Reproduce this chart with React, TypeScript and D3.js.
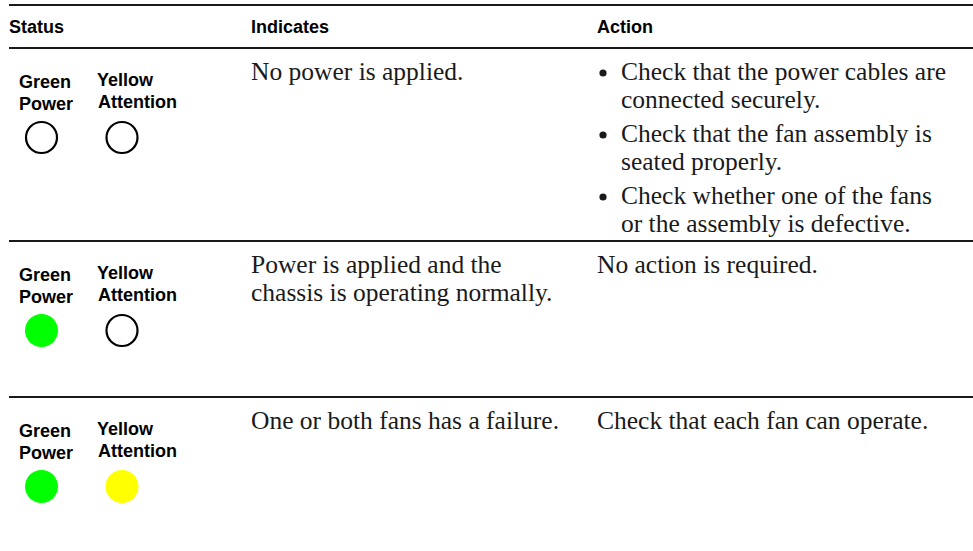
import React, { useEffect, useRef } from 'react'
import * as d3 from 'd3'

const WIDTH = 973
const HEIGHT = 551

// table content
const headers = ['Status', 'Indicates', 'Action']
const ledNames = ['Green', 'Yellow']
const ledFunctions = ['Power', 'Attention']
const powerLed = ['off', 'on', 'on']
const attentionLed = ['off', 'off', 'on']
const indicates = [
  ['No power is applied.'],
  ['Power is applied and the', 'chassis is operating normally.'],
  ['One or both fans has a failure.'],
]
const actions = [
  [
    ['Check that the power cables are', 'connected securely.'],
    ['Check that the fan assembly is', 'seated properly.'],
    ['Check whether one of the fans', 'or the assembly is defective.'],
  ],
  [['No action is required.']],
  [['Check that each fan can operate.']],
]
const bulleted = [true, false, false]

const ledColors = ['#00ff00', '#ffff00']

// layout
const ruleLeft = 9
const ruleRight = 973
const topRule = 5
const headerBaseline = 33
const rowTops = [48, 241, 397]
const colX = [9, 251, 597]
const bulletX = 603
const bulletTextX = 621
const textTop = 32
const lineHeight = 28
const itemGap = 6
const ledLabelX = [[19, 19], [97, 98]]
const ledLabelY = [[40, 62], [38, 60]]
const ledCx = [41.5, 122]
const ledCy = 89.5
const ledR = 16.5

const SANS = '"Liberation Sans", Arial, Helvetica, sans-serif'
const SERIF = '"Liberation Serif", "Times New Roman", serif'

export default function App() {
  const ref = useRef<SVGSVGElement>(null)

  useEffect(() => {
    const svg = d3.select(ref.current)
    svg.selectAll('*').remove()

    // horizontal rules
    svg.selectAll('line.rule')
      .data([topRule, ...rowTops])
      .join('line')
      .attr('class', 'rule')
      .attr('x1', ruleLeft)
      .attr('x2', ruleRight)
      .attr('y1', d => d)
      .attr('y2', d => d)
      .attr('stroke', '#1a1a1a')
      .attr('stroke-width', 1.8)

    // column headers
    svg.selectAll('text.header')
      .data(headers)
      .join('text')
      .attr('class', 'header')
      .attr('x', (d, i) => colX[i])
      .attr('y', headerBaseline)
      .attr('font-family', SANS)
      .attr('font-weight', 'bold')
      .attr('font-size', 18)
      .attr('fill', '#000')
      .text(d => d)

    const rows = svg.selectAll('g.row')
      .data(d3.range(rowTops.length))
      .join('g')
      .attr('class', 'row')
      .attr('transform', i => `translate(0,${rowTops[i]})`)

    rows.each(function (r) {
      const g = d3.select(this)
      const states = [powerLed[r], attentionLed[r]]

      // LED labels and lamps
      ledNames.forEach((name, k) => {
        const lines = [name, ledFunctions[k]]
        g.selectAll(`text.led${k}`)
          .data(lines)
          .join('text')
          .attr('class', `led${k}`)
          .attr('x', (d, j) => ledLabelX[k][j])
          .attr('y', (d, j) => ledLabelY[k][j])
          .attr('font-family', SANS)
          .attr('font-weight', 'bold')
          .attr('font-size', 18)
          .attr('fill', '#000')
          .text(d => d)

        const on = states[k] === 'on'
        g.append('circle')
          .attr('cx', ledCx[k])
          .attr('cy', ledCy)
          .attr('r', on ? ledR : ledR - 1)
          .attr('fill', on ? ledColors[k] : '#fff')
          .attr('stroke', on ? 'none' : '#000')
          .attr('stroke-width', 2.2)
      })

      // Indicates column
      g.selectAll('text.ind')
        .data(indicates[r])
        .join('text')
        .attr('class', 'ind')
        .attr('x', colX[1])
        .attr('y', (d, j) => textTop + j * lineHeight)
        .attr('font-family', SERIF)
        .attr('font-size', 25.5)
        .attr('fill', '#1a1a1a')
        .text(d => d)

      // Action column
      let y = textTop
      actions[r].forEach((item, k) => {
        if (k > 0) y += itemGap
        if (bulleted[r]) {
          g.append('circle')
            .attr('cx', bulletX)
            .attr('cy', y - 7)
            .attr('r', 3.6)
            .attr('fill', '#1a1a1a')
        }
        item.forEach(line => {
          g.append('text')
            .attr('x', bulleted[r] ? bulletTextX : colX[2])
            .attr('y', y)
            .attr('font-family', SERIF)
            .attr('font-size', 25.5)
            .attr('fill', '#1a1a1a')
            .text(line)
          y += lineHeight
        })
      })
    })
  }, [])

  return (
    <svg
      ref={ref}
      width={WIDTH}
      height={HEIGHT}
      style={{ position: 'absolute', left: 0, top: 0, background: '#fff' }}
    />
  )
}
